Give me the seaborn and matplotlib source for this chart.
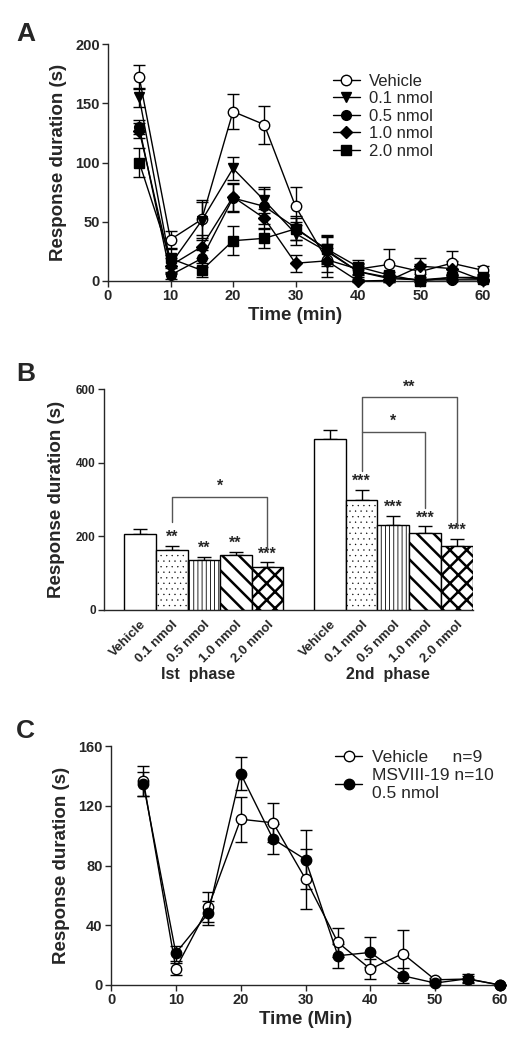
import numpy as np
import pandas as pd
import matplotlib
matplotlib.use('Agg')
import matplotlib.pyplot as plt
import matplotlib.transforms as mtransforms
import seaborn as sns

# Panel A: time course, 5 doses
time_a = [5, 10, 15, 20, 25, 30, 35, 40, 45, 50, 55, 60]
groups_a = ['Vehicle', '0.1 nmol', '0.5 nmol', '1.0 nmol', '2.0 nmol']
vehicle_a = [172, 35, 52, 143, 132, 63, 18, 10, 14, 8, 15, 9]
vehicle_a_err = [10, 7, 16, 15, 16, 16, 10, 5, 13, 6, 10, 4]
nmol01_a = [155, 14, 51, 95, 68, 40, 25, 8, 2, 1, 3, 3]
nmol01_a_err = [8, 8, 16, 10, 11, 10, 12, 6, 3, 2, 3, 3]
nmol05_a = [130, 5, 19, 70, 63, 45, 26, 8, 3, 1, 1, 1]
nmol05_a_err = [6, 3, 7, 12, 15, 10, 12, 5, 2, 1, 1, 1]
nmol10_a = [127, 13, 29, 71, 53, 15, 17, 0, 0.5, 12.5, 10.5, 0.5]
nmol10_a_err = [6, 6, 10, 12, 8, 7, 14, 1, 1, 7, 6, 1]
nmol20_a = [100, 19, 9, 34, 36, 44, 27, 12, 5, 0, 3, 2]
nmol20_a_err = [12, 8, 6, 12, 8, 9, 12, 6, 3, 1, 2, 2]

# Panel B: phase bars
doses_b = ['Vehicle', '0.1 nmol', '0.5 nmol', '1.0 nmol', '2.0 nmol']
phases_b = ['Ist  phase', '2nd  phase']
phase1_mean = [205, 163, 135, 148, 117]
phase1_sem = [14, 12, 8, 9.5, 12]
phase2_mean = [464, 298, 230, 208, 174]
phase2_sem = [26, 29, 26, 19, 19]
phase1_stars = ['', '**', '**', '**', '***']
phase2_stars = ['', '***', '***', '***', '***']

# Panel C: vehicle vs MSVIII-19
time_c = [5, 10, 15, 20, 25, 30, 35, 40, 45, 50, 55, 60]
vehicle_c = [136.6, 11, 52, 111, 108.6, 71, 28.5, 10.7, 21, 3.5, 4, 0]
vehicle_c_err = [10, 4, 10, 15, 13, 20, 9.5, 7, 15.5, 1, 2, 0]
msviii_c = [134.4, 21.4, 48, 141.5, 97.7, 84, 19.6, 21.8, 6.2, 1.3, 4.2, 0]
msviii_c_err = [8, 5, 8, 11, 10, 20, 8, 10, 5, 1, 3, 0]


def style_axis(ax, labelsize):
    sns.despine(ax=ax)
    for side in ['left', 'bottom']:
        ax.spines[side].set_linewidth(1.0)
    ax.tick_params(direction='out', length=4, width=1, labelsize=labelsize, pad=2)
    for lab in ax.get_xticklabels() + ax.get_yticklabels():
        lab.set_fontweight('bold')


def line_series(ax, x, y, err, marker, face, label, ms=7.5):
    ax.errorbar(x, y, yerr=err, fmt='none', ecolor='black', elinewidth=1,
                capsize=4, capthick=1, zorder=2, clip_on=False)
    sns.lineplot(x=x, y=y, ax=ax, color='black', linewidth=1, marker=marker,
                 markersize=ms, markerfacecolor=face, markeredgecolor='black',
                 markeredgewidth=1, label=label, clip_on=False, zorder=3)


def main():
    sns.set_style('ticks')
    plt.rcParams['font.family'] = ['Liberation Sans', 'DejaVu Sans']
    plt.rcParams['font.weight'] = 'bold'
    plt.rcParams['axes.labelweight'] = 'bold'
    plt.rcParams['hatch.linewidth'] = 1.0

    fig = plt.figure(figsize=(5.22, 10.5), dpi=100)
    W, H = 522.0, 1050.0

    def axes_px(left, top, right, bottom):
        return fig.add_axes([left / W, 1 - bottom / H, (right - left) / W, (bottom - top) / H])

    # ---------------- Panel A
    ax_a = axes_px(108, 44, 483, 281)
    series_a = [
        (nmol01_a, nmol01_a_err, 'v'),
        (nmol05_a, nmol05_a_err, 'o'),
        (nmol10_a, nmol10_a_err, 'D'),
        (nmol20_a, nmol20_a_err, 's'),
    ]
    line_series(ax_a, time_a, vehicle_a, vehicle_a_err, 'o', 'white', groups_a[0])
    for name, (vals, errs, m) in zip(groups_a[1:], series_a):
        line_series(ax_a, time_a, vals, errs, m, 'black', name, ms=7 if m != 'D' else 6)
    ax_a.set_xlim(0, 60)
    ax_a.set_ylim(0, 200)
    ax_a.set_xticks(range(0, 61, 10))
    ax_a.set_yticks(range(0, 201, 50))
    ax_a.set_xlabel('Time (min)', fontsize=13.5, labelpad=3)
    ax_a.set_ylabel('Response duration (s)', fontsize=13.5, labelpad=6)
    style_axis(ax_a, 10.5)
    ax_a.legend(loc='upper left', bbox_to_anchor=(0.6, 0.875), frameon=False,
                prop={'weight': 'normal', 'size': 12}, handlelength=1.6,
                handletextpad=0.55, labelspacing=0.15, borderpad=0, borderaxespad=0)

    # ---------------- Panel B
    ax_b = axes_px(104, 389, 473, 610)
    df_b = pd.DataFrame({
        'phase': np.repeat(phases_b, len(doses_b)),
        'dose': doses_b * 2,
        'mean': phase1_mean + phase2_mean,
        'sem': phase1_sem + phase2_sem,
    })
    sns.barplot(data=df_b, x='phase', y='mean', hue='dose', order=phases_b,
                hue_order=doses_b, palette=dict(zip(doses_b, ['white'] * 5)),
                edgecolor='black', linewidth=1, width=0.84, errorbar=None,
                legend=False, ax=ax_b, zorder=3)
    hatches = ['', '...', '||||', '\\\\', 'xx']
    hatch_lw = [1.0, 0.2, 0.6, 1.8, 1.8]
    centers = {}
    for i, container in enumerate(ax_b.containers):
        for j, bar in enumerate(container):
            bar.set_hatch(hatches[i])
            if hasattr(bar, 'set_hatch_linewidth'):
                bar.set_hatch_linewidth(hatch_lw[i])
            centers[(j, i)] = bar.get_x() + bar.get_width() / 2
    means = [phase1_mean, phase2_mean]
    sems = [phase1_sem, phase2_sem]
    stars = [phase1_stars, phase2_stars]
    ticks, labels = [], []
    for j in range(2):
        xs = [centers[(j, i)] for i in range(5)]
        ax_b.errorbar(xs, means[j], yerr=[[0] * 5, sems[j]], fmt='none', ecolor='black',
                      elinewidth=1, capsize=5, capthick=1, zorder=2)
        for i in range(5):
            if stars[j][i]:
                ax_b.text(xs[i], means[j][i] + sems[j][i] + 3, stars[j][i], ha='center',
                          va='bottom', fontsize=11.5, fontweight='bold')
        ticks += xs
        labels += doses_b
    ax_b.set_xticks(ticks)
    ax_b.set_xticklabels(labels, rotation=45, ha='right', rotation_mode='anchor')
    ax_b.set_xlim(-0.526, 1.42)
    ax_b.set_ylim(0, 600)
    ax_b.set_yticks([0, 200, 400, 600])
    ax_b.set_xlabel('')
    ax_b.set_ylabel('Response duration (s)', fontsize=13.5, labelpad=8)
    style_axis(ax_b, 8.5)
    ax_b.tick_params(axis='x', length=0, labelsize=9.5, pad=6)
    trans = mtransforms.blended_transform_factory(ax_b.transData, ax_b.transAxes)
    for j, name in enumerate(phases_b):
        ax_b.text(j - 0.03, -0.29, name, transform=trans, ha='center', va='center',
                  fontsize=11.5, fontweight='bold')

    # significance brackets
    def bracket(x0, x1, y, y0, y1, label):
        ax_b.plot([x0, x0, x1, x1], [y0, y, y, y1], color='#555555', linewidth=1,
                  clip_on=False, zorder=4)
        ax_b.text((x0 + x1) / 2, y + 8, label, ha='center', va='bottom',
                  fontsize=11.5, fontweight='bold')

    bracket(centers[(0, 1)], centers[(0, 4)], 307, 240, 166, '*')
    bracket(centers[(1, 1)], centers[(1, 3)], 483, 378, 276, '*')
    bracket(centers[(1, 1)], centers[(1, 4)], 577, 483, 222, '**')

    # ---------------- Panel C
    ax_c = axes_px(111, 746, 500, 985)
    line_series(ax_c, time_c, vehicle_c, vehicle_c_err, 'o', 'white', 'Vehicle     n=9')
    line_series(ax_c, time_c, msviii_c, msviii_c_err, 'o', 'black', 'MSVIII-19 n=10\n0.5 nmol')
    ax_c.set_xlim(0, 60)
    ax_c.set_ylim(0, 160)
    ax_c.set_xticks(range(0, 61, 10))
    ax_c.set_yticks(range(0, 161, 40))
    ax_c.set_xlabel('Time (Min)', fontsize=13.5, labelpad=3)
    ax_c.set_ylabel('Response duration (s)', fontsize=13.5, labelpad=6)
    style_axis(ax_c, 10.5)
    ax_c.legend(loc='upper left', bbox_to_anchor=(0.575, 0.985), frameon=False,
                prop={'weight': 'normal', 'size': 12.5}, handlelength=1.6,
                handletextpad=0.55, labelspacing=0.2, borderpad=0, borderaxespad=0)

    # panel letters
    for letter, ypx in [('A', 41), ('B', 381), ('C', 738)]:
        fig.text(16 / W, 1 - ypx / H, letter, fontsize=19, fontweight='bold',
                 ha='left', va='baseline')

    fig.savefig('out.png', dpi=100)
    plt.close(fig)


if __name__ == "__main__":
    main()
